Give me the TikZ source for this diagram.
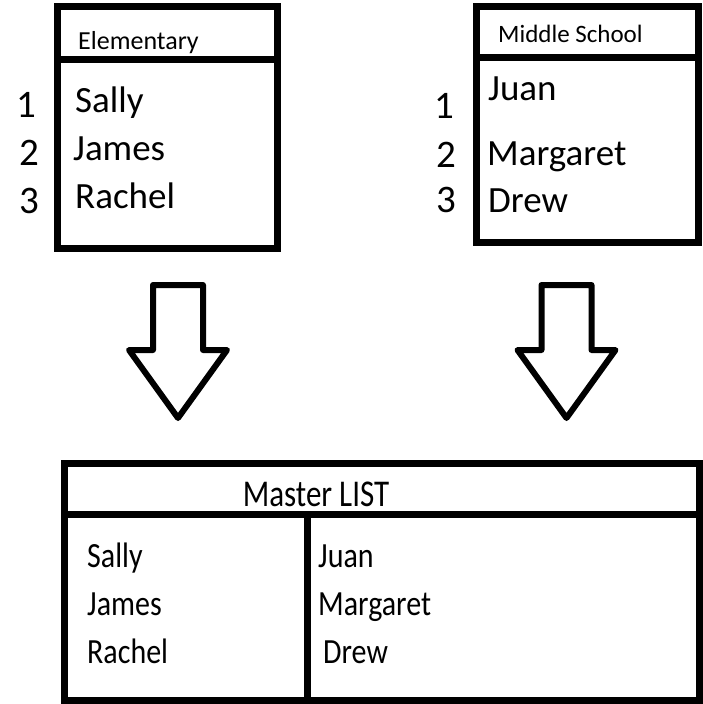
\documentclass[tikz,border=0pt]{standalone}
\usepackage{fontspec}
\usepackage{graphicx}
\setmainfont{Carlito}
\usetikzlibrary{calc}
\def\hollowarrow(#1){\draw[line width=6pt, line join=round] ($(#1)+(-25,0)$) -- ($(#1)+(25,0)$) -- ($(#1)+(25,65)$) -- ($(#1)+(49,65)$) -- ($(#1)+(0,133)$) -- ($(#1)+(-49,65)$) -- ($(#1)+(-25,65)$) -- cycle;}
\newcommand{\tallt}[2][1.18]{\scalebox{1}[#1]{#2}}
\tikzset{
	entry/.style={anchor=base west, inner sep=0pt, font=\fontsize{37}{37}\selectfont},
	masterentry/.style={anchor=base west, inner sep=0pt, font=\fontsize{30}{30}\selectfont},
	rank/.style={anchor=base, inner sep=0pt, font=\fontsize{39}{39}\selectfont},
	frame/.style={line width=7pt}
}

\begin{document}
\begin{tikzpicture}[x=1pt, y=-1pt]
				\useasboundingbox (0,0) rectangle (702,704);
				
				\draw[frame] (57,6.5) rectangle (277,248);
				\draw[frame] (57,59) -- (277,59);
				\node[anchor=base west, inner sep=0pt, font=\fontsize{26}{26}\selectfont] (elem) at (78,49) {Elementary};
				\node[entry] (e1) at (75,112) {Sally};
				\node[entry] (e2) at (73,160) {James};
				\node[entry] (e3) at (75,208) {Rachel};
				\node[rank] (en1) at (26,117) {1};
				\node[rank] (en2) at (29,165) {2};
				\node[rank] (en3) at (29,213) {3};
				
				\draw[frame] (476,6.5) rectangle (698,242);
				\draw[frame] (476,57) -- (698,57);
				\node[anchor=base west, inner sep=0pt, font=\fontsize{25}{25}\selectfont] (mid) at (498,42) {Middle School};
				\node[entry] (m1) at (488,100) {Juan};
				\node[entry] (m2) at (487,165) {Margaret};
				\node[entry] (m3) at (488,212) {Drew};
				\node[rank] (mn1) at (444,118) {1};
				\node[rank] (mn2) at (446,167) {2};
				\node[rank] (mn3) at (446,212) {3};
				
				\hollowarrow(178,285)
				\hollowarrow(566.5,285)
				
				\draw[frame] (64,463) rectangle (699,700);
				\draw[frame] (64,514) -- (699,514);
				\draw[frame] (307,514) -- (307,700);
				\node[anchor=base, inner sep=0pt, font=\fontsize{31}{31}\selectfont] (master) at (316,506) {\tallt[1.22]{Master LIST}};
				\node[masterentry] (s1) at (87,567) {\tallt{Sally}};
				\node[masterentry] (s2) at (87,615) {\tallt{James}};
				\node[masterentry] (s3) at (87,663) {\tallt{Rachel}};
				\node[masterentry] (t1) at (318,567) {\tallt{Juan}};
				\node[masterentry] (t2) at (318,615) {\tallt{Margaret}};
				\node[masterentry] (t3) at (323,663) {\tallt{Drew}};
			\end{tikzpicture}
\end{document}
